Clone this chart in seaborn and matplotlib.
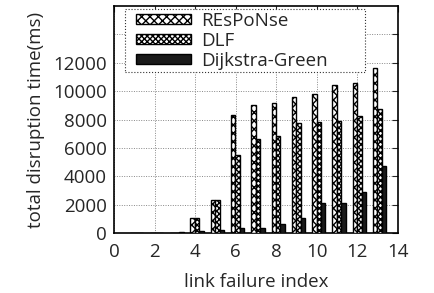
import matplotlib
matplotlib.use("Agg")
import matplotlib.pyplot as plt
import seaborn as sns
import pandas as pd
from matplotlib.patches import Patch, Rectangle
from matplotlib.legend_handler import HandlerPatch

index = list(range(1, 14))
response = [10, 20, 30, 1080, 2350, 8340, 9040, 9180, 9600, 9770, 10450, 10590, 11650]
dlf = [10, 20, 30, 1050, 2350, 5470, 6650, 6810, 7750, 7820, 7870, 8220, 8710]
dijkstra = [5, 30, 90, 140, 230, 350, 380, 660, 1060, 2090, 2140, 2920, 4700]
series_names = ["REsPoNse", "DLF", "Dijkstra-Green"]
yticks = [0, 2000, 4000, 6000, 8000, 10000, 12000, 14000]
ytick_labels = ["0", "2000", "4000", "6000", "8000", "10000", "12000", ""]
xticks = [0, 2, 4, 6, 8, 10, 12, 14]

df = pd.DataFrame({
    "idx": index * 3,
    "val": response + dlf + dijkstra,
    "series": [series_names[0]] * 13 + [series_names[1]] * 13 + [series_names[2]] * 13,
})

sns.set_style("white")
plt.rcParams["font.family"] = ["Open Sans", "DejaVu Sans"]
plt.rcParams["hatch.linewidth"] = 1.0
plt.rcParams["hatch.color"] = "black"

FS = 13.5

fig = plt.figure(figsize=(4.34, 2.93), dpi=100)
ax = fig.add_axes([0.2627, 0.2048, 0.654, 0.7747])

colors = ["white", "white", "#1a1a1a"]
hatches = ["xxxx", "xxxxxx", ""]
sns.barplot(data=df, x="idx", y="val", hue="series", hue_order=series_names,
            native_scale=True, width=0.66, palette=colors, ax=ax,
            edgecolor="black", linewidth=1.0, legend=False, zorder=3)

for cont, h in zip(ax.containers, hatches):
    for p in cont.patches:
        p.set_hatch(h)
        p.set_x(p.get_x() + 0.1)

ax.set_xlim(0, 14)
ax.set_ylim(0, 16000)
ax.set_xticks(xticks)
ax.set_xticklabels([str(x) for x in xticks])
ax.set_yticks(yticks)
ax.set_yticklabels(ytick_labels)
ax.tick_params(axis="both", direction="in", labelsize=FS, length=4, width=0.8,
               top=True, right=True)
ax.tick_params(axis="x", pad=7)
ax.tick_params(axis="y", pad=5)
ax.grid(True, linestyle=(0, (1, 1.5)), color="#888888", linewidth=0.7, zorder=0)
ax.set_axisbelow(True)
for s in ax.spines.values():
    s.set_linewidth(1.2)
    s.set_color("black")

ax.set_xlabel("link failure index", fontsize=FS, labelpad=9)
ax.set_ylabel("total disruption time(ms)", fontsize=FS, labelpad=6)

OFF = 0.45  # handle offset in em


def offset_rect(legend, orig_handle, xdescent, ydescent, width, height, fontsize):
    off = OFF * fontsize
    return Rectangle((-xdescent + off, -ydescent), width - off, height)


handles = [Patch(facecolor=c, edgecolor="black", hatch=h, linewidth=1.0)
           for c, h in zip(colors, hatches)]
leg = ax.legend(handles, series_names, loc="upper left",
                bbox_to_anchor=(0.039, 0.987, 0.845, 0.0), mode="expand",
                fontsize=FS, frameon=True, fancybox=False, handlelength=2.9 + OFF,
                handleheight=0.45, labelspacing=0.1, borderpad=0.15,
                handletextpad=0.55, borderaxespad=0,
                handler_map={Patch: HandlerPatch(patch_func=offset_rect)})
fr = leg.get_frame()
fr.set_linestyle(":")
fr.set_edgecolor("#333333")
fr.set_linewidth(0.8)
fr.set_facecolor("white")
fr.set_alpha(1)
leg.set_zorder(5)

fig.savefig("out.png", dpi=100)
